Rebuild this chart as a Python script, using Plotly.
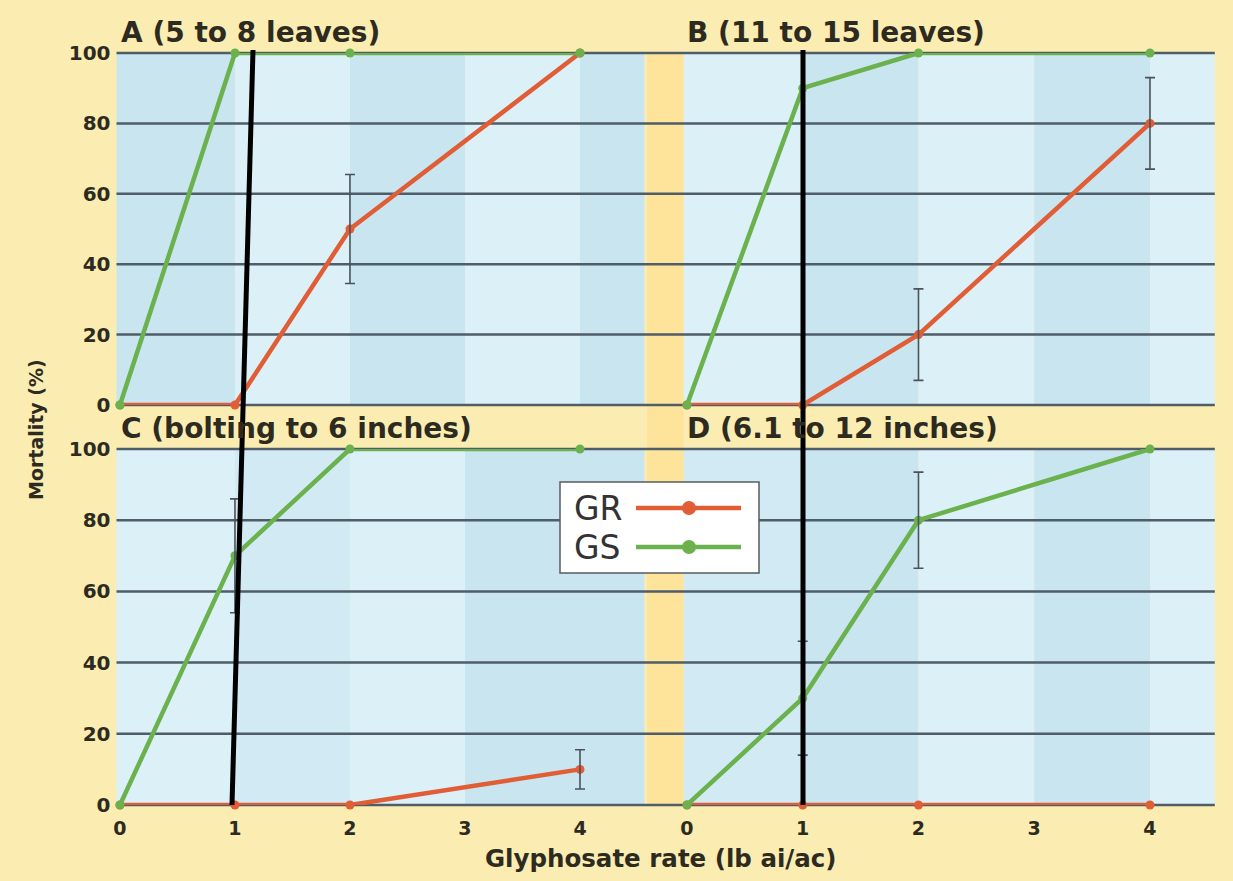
import plotly.graph_objects as go

# ---------------- data ----------------
rates = [0, 1, 2, 4]
x_ticks = [0, 1, 2, 3, 4]
y_ticks = [0, 20, 40, 60, 80, 100]
panel_titles = ["A (5 to 8 leaves)", "B (11 to 15 leaves)",
                "C (bolting to 6 inches)", "D (6.1 to 12 inches)"]

gr_A = [0, 0, 50, 100]
gs_A = [0, 100, 100, 100]
gr_B = [0, 0, 20, 80]
gs_B = [0, 90, 100, 100]
gr_C = [0, 0, 0, 10]
gs_C = [0, 70, 100, 100]
gr_D = [0, 0, 0, 0]
gs_D = [0, 30, 80, 100]

gr_err_A = [None, None, 15.5, None]
gs_err_A = [None, None, None, None]
gr_err_B = [None, None, 13, 13]
gs_err_B = [None, None, None, None]
gr_err_C = [None, None, None, 5.5]
gs_err_C = [None, 16, None, None]
gr_err_D = [None, None, None, None]
gs_err_D = [None, 16, 13.5, None]

# ---------------- style ----------------
W, H = 1233, 881
C_GR = "#e05d36"
C_GS = "#6bb24e"
C_TEXT = "#2d2b1f"
C_GRID = "#4f5d68"
C_ERR = "#4a525c"
BG = "#fbedb2"
GAP = "#fde49a"
BLUE_D = "#c9e5ef"
BLUE_M = "#d2eaf3"
BLUE_L = "#dcf0f8"
FONT = "DejaVu Sans"

X_RANGE = [-0.03, 4.56]
Y_RANGE = [0, 100]
left_dom = [116.5 / W, 644.4 / W]
right_dom = [683.5 / W, 1214.8 / W]
top_dom = [1 - 405 / H, 1 - 53 / H]
bot_dom = [1 - 805 / H, 1 - 449 / H]

panels = [
    dict(gr=gr_A, gs=gs_A, gre=gr_err_A, gse=gs_err_A, xd=left_dom, yd=top_dom,
         stripes=[BLUE_D, BLUE_L, BLUE_D, BLUE_L, BLUE_D]),
    dict(gr=gr_B, gs=gs_B, gre=gr_err_B, gse=gs_err_B, xd=right_dom, yd=top_dom,
         stripes=[BLUE_L, BLUE_D, BLUE_L, BLUE_D, BLUE_L]),
    dict(gr=gr_C, gs=gs_C, gre=gr_err_C, gse=gs_err_C, xd=left_dom, yd=bot_dom,
         stripes=[BLUE_L, BLUE_M, BLUE_L, BLUE_D, BLUE_D]),
    dict(gr=gr_D, gs=gs_D, gre=gr_err_D, gse=gs_err_D, xd=right_dom, yd=bot_dom,
         stripes=[BLUE_M, BLUE_D, BLUE_L, BLUE_D, BLUE_L]),
]
stripe_edges = [X_RANGE[0], 1, 2, 3, 4, X_RANGE[1]]


def px(xd, v):
    return xd[0] + (v - X_RANGE[0]) / (X_RANGE[1] - X_RANGE[0]) * (xd[1] - xd[0])


def py(yd, v):
    return yd[0] + (v - Y_RANGE[0]) / (Y_RANGE[1] - Y_RANGE[0]) * (yd[1] - yd[0])


fig = go.Figure()
shapes = []
annotations = []
layout_axes = {}

for i, p in enumerate(panels):
    k = "" if i == 0 else str(i + 1)
    xa, ya = "x" + k, "y" + k
    for j, col in enumerate(p["stripes"]):
        shapes.append(dict(type="rect", xref="paper", yref="paper", layer="below",
                           x0=px(p["xd"], stripe_edges[j]), x1=px(p["xd"], stripe_edges[j + 1]),
                           y0=p["yd"][0], y1=p["yd"][1], fillcolor=col, line=dict(width=0)))
    for name, vals, errs, col in [("GR", p["gr"], p["gre"], C_GR), ("GS", p["gs"], p["gse"], C_GS)]:
        fig.add_trace(go.Scatter(x=rates, y=vals, mode="lines+markers", name=name,
                                 line=dict(color=col, width=4.5), marker=dict(color=col, size=9),
                                 cliponaxis=False, showlegend=False, xaxis=xa, yaxis=ya))
        ex = [r for r, e in zip(rates, errs) if e is not None]
        ey = [v for v, e in zip(vals, errs) if e is not None]
        ee = [e for e in errs if e is not None]
        if ex:
            fig.add_trace(go.Scatter(x=ex, y=ey, mode="markers", marker=dict(size=1, opacity=0),
                                     error_y=dict(type="data", array=ee, color=C_ERR, thickness=1.6, width=5),
                                     cliponaxis=False, showlegend=False, hoverinfo="skip",
                                     xaxis=xa, yaxis=ya))
    is_left = i in (0, 2)
    is_bottom = i in (2, 3)
    layout_axes["xaxis" + k] = dict(domain=p["xd"], range=X_RANGE, anchor=ya, showgrid=False,
                                    zeroline=False, showline=False, automargin=False,
                                    tickvals=x_ticks, ticktext=["<b>%d</b>" % t for t in x_ticks],
                                    showticklabels=is_bottom, ticks="", ticklabelstandoff=10,
                                    tickfont=dict(family=FONT, size=19, color=C_TEXT))
    layout_axes["yaxis" + k] = dict(domain=p["yd"], range=Y_RANGE, anchor=xa, showgrid=False,
                                    zeroline=False, showline=False, automargin=False,
                                    tickvals=y_ticks, ticktext=["<b>%d</b>" % t for t in y_ticks],
                                    showticklabels=is_left, ticks="", ticklabelstandoff=5,
                                    tickfont=dict(family=FONT, size=20, color=C_TEXT))
    annotations.append(dict(text="<b>%s</b>" % panel_titles[i], xref="paper", yref="paper",
                            x=p["xd"][0] + 2 / W, y=p["yd"][1] + 21 / H, xanchor="left", yanchor="middle",
                            showarrow=False, font=dict(family=FONT, size=28, color=C_TEXT)))

shapes.append(dict(type="rect", xref="paper", yref="paper", layer="below",
                   x0=647 / W, x1=683.5 / W, y0=bot_dom[0], y1=top_dom[1],
                   fillcolor=GAP, line=dict(width=0)))
for yd in (top_dom, bot_dom):
    for t in y_ticks:
        shapes.append(dict(type="line", xref="paper", yref="paper", layer="below",
                           x0=left_dom[0], x1=right_dom[1], y0=py(yd, t), y1=py(yd, t),
                           line=dict(color=C_GRID, width=2.5)))

# custom legend
lx0, lx1, ly0, ly1 = 560 / W, 759 / W, 1 - 573 / H, 1 - 482 / H
shapes.append(dict(type="rect", xref="paper", yref="paper", layer="above",
                   x0=lx0, x1=lx1, y0=ly0, y1=ly1, fillcolor="white",
                   line=dict(color="#555c60", width=1.5)))
for name, col, yc in [("GR", C_GR, 508), ("GS", C_GS, 547)]:
    yy = 1 - yc / H
    shapes.append(dict(type="line", xref="paper", yref="paper", layer="above",
                       x0=636 / W, x1=741 / W, y0=yy, y1=yy, line=dict(color=col, width=4.5)))
    shapes.append(dict(type="circle", xref="paper", yref="paper", layer="above",
                       x0=682 / W, x1=696 / W, y0=yy - 7 / H, y1=yy + 7 / H,
                       fillcolor=col, line=dict(width=0)))
    annotations.append(dict(text=name, xref="paper", yref="paper", x=572 / W, y=yy,
                            xanchor="left", yanchor="middle", showarrow=False,
                            font=dict(family=FONT, size=33, color="#333333")))

# black overlay lines
shapes.append(dict(type="line", xref="paper", yref="paper", layer="above",
                   x0=253 / W, y0=1 - 50 / H, x1=232 / W, y1=1 - 805 / H,
                   line=dict(color="black", width=5)))
shapes.append(dict(type="line", xref="paper", yref="paper", layer="above",
                   x0=803 / W, y0=1 - 50 / H, x1=803 / W, y1=1 - 805 / H,
                   line=dict(color="black", width=5)))

annotations.append(dict(text="<b>Glyphosate rate (lb ai/ac)</b>", xref="paper", yref="paper",
                        x=661 / W, y=1 - 858 / H, xanchor="center", yanchor="middle", showarrow=False,
                        font=dict(family=FONT, size=24.5, color=C_TEXT)))
annotations.append(dict(text="<b>Mortality (%)</b>", xref="paper", yref="paper", textangle=-90,
                        x=36 / W, y=1 - 430 / H, xanchor="center", yanchor="middle", showarrow=False,
                        font=dict(family=FONT, size=19, color=C_TEXT)))

fig.update_layout(width=W, height=H, margin=dict(l=0, r=0, t=0, b=0, pad=0, autoexpand=False),
                  autosize=False, paper_bgcolor=BG, plot_bgcolor="rgba(0,0,0,0)", showlegend=False,
                  shapes=shapes, annotations=annotations, **layout_axes)

fig.write_html("out.html")
